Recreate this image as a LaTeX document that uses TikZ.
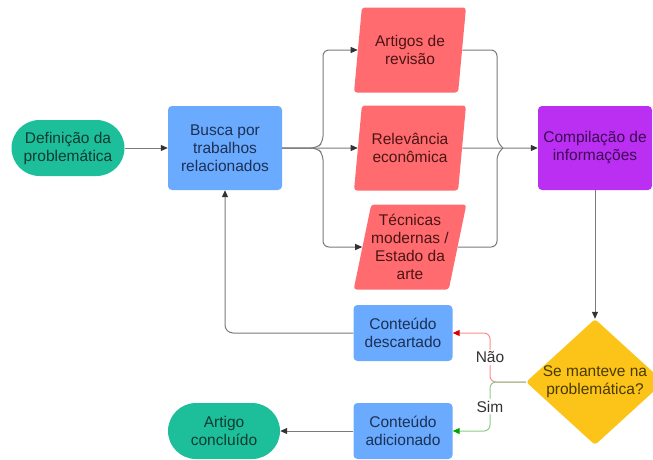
\documentclass[tikz,border=0pt]{standalone}
\usepackage{fontspec}
\setmainfont{Liberation Sans}
\usetikzlibrary{shapes.geometric,arrows.meta}
\definecolor{verde}{HTML}{1DBF9B}
\definecolor{verdetxt}{HTML}{0E3B33}
\definecolor{azul}{HTML}{6AAAFF}
\definecolor{azultxt}{HTML}{1C3154}
\definecolor{vermelho}{HTML}{FF6B6E}
\definecolor{vermelhotxt}{HTML}{4B1515}
\definecolor{roxo}{HTML}{BB2FF3}
\definecolor{roxotxt}{HTML}{3D0A52}
\definecolor{amarelo}{HTML}{FCC418}
\definecolor{amarelotxt}{HTML}{4A3A00}
\definecolor{cinza}{HTML}{7A7A7A}
\definecolor{ponta}{HTML}{333333}

\begin{document}
\begin{tikzpicture}[x=1pt,y=-1pt,
  font=\fontsize{15.5}{18}\selectfont,
  terminal/.style={rounded corners=28pt, fill=verde, text=verdetxt, align=center,
    minimum width=113pt, minimum height=56pt, inner sep=0pt},
  caixa/.style={rounded corners=4pt, fill=azul, text=azultxt, align=center,
    minimum width=114pt, minimum height=84pt, inner sep=0pt},
  caixinha/.style={caixa, minimum width=99pt, minimum height=56pt},
  dado/.style={trapezium, trapezium left angle=75, trapezium right angle=105,
    trapezium stretches body=true, rounded corners=3pt, fill=vermelho,
    text=vermelhotxt, align=center, minimum width=112pt, minimum height=85pt, inner sep=0pt},
  decisao/.style={diamond, fill=amarelo, text=amarelotxt, align=center,
    minimum width=138pt, minimum height=126pt, inner sep=-10pt, rounded corners=3pt},
  seta/.style={draw=cinza, line width=1pt, -{Triangle[length=7pt,width=6pt,color=ponta]}},
  linha/.style={draw=cinza, line width=1pt},
  rotulo/.style={fill=white, text=black!80, inner sep=2pt}]
\useasboundingbox (0,0) rectangle (653,459);

\node[terminal] (def) at (68,148) {Definição da\\problemática};
\node[caixa] (busca) at (225,148) {Busca por\\trabalhos\\relacionados};
\node[dado] (artigos) at (410,50) {Artigos de\\revisão};
\node[dado] (relev) at (410,148) {Relevância\\econômica};
\node[dado] (tecnicas) at (410,247) {Técnicas\\modernas /\\Estado da\\arte};
\node[caixa, fill=roxo, text=roxotxt] (comp) at (595,148) {Compilação de\\informações};
\node[decisao] (dec) at (595,382) {Se manteve na\\problemática?};
\node[caixinha] (desc) at (403,333) {Conteúdo\\descartado};
\node[caixinha] (adic) at (403,431) {Conteúdo\\adicionado};
\node[terminal, minimum width=112pt] (fim) at (224,431) {Artigo\\concluído};

\path[seta] (def) -- (busca);
\path[seta] (busca) -- (relev);
\path[seta, rounded corners=6pt] (busca.east) -- (317,148) -- (323,142) |- (artigos);
\path[seta, rounded corners=6pt] (busca.east) -- (317,148) -- (323,154) |- (tecnicas);
\path[linha, rounded corners=6pt] (artigos) -| (497,142) -- (503,148);
\path[linha, rounded corners=6pt] (tecnicas) -| (497,154) -- (503,148);
\path[seta] (relev) -- (comp);
\path[seta] (comp) -- (dec);
\path[draw=red!45, line width=1pt, -{Triangle[length=7pt,width=6pt,color=red!85!black]}, rounded corners=6pt]
  (dec.west) -- (490,382) -- node[rotulo] (nao) {Não} (490,333) -- (desc.east);
\path[draw=green!55!black!45, line width=1pt, -{Triangle[length=7pt,width=6pt,color=green!65!black]}, rounded corners=6pt]
  (dec.west) -- (490,382) -- node[rotulo] (sim) {Sim} (490,431) -- (adic.east);
\path[seta, rounded corners=8pt] (desc) -| (busca);
\path[seta] (adic) -- (fim);
\end{tikzpicture}
\end{document}
